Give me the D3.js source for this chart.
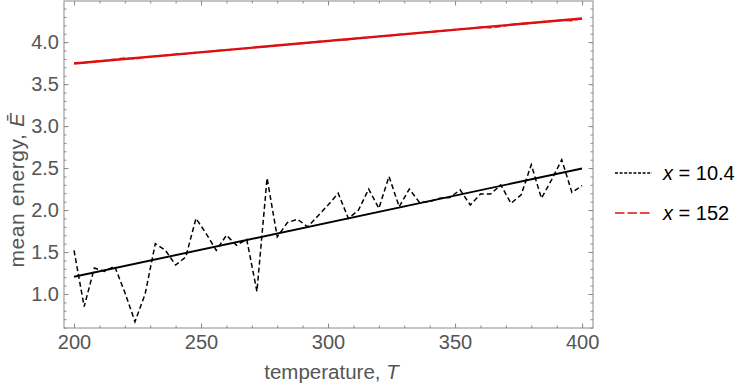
<!DOCTYPE html>
<html><head><meta charset="utf-8">
<script src="https://cdn.jsdelivr.net/npm/d3@7"></script>
<style>
body{margin:0;background:#fff;}
svg{display:block;}
text{font-family:"Liberation Sans",Arial,Helvetica,sans-serif;}
</style></head>
<body>
<svg id="chart" width="743" height="387"></svg>
<script>
// ---- data ----
const temps = [200,204,208,212,216,220,224,228,232,236,240,244,248,252,256,260,264,268,272,276,280,284,288,292,296,300,304,308,312,316,320,324,328,332,336,340,344,348,352,356,360,364,368,372,376,380,384,388,392,396,400];
const energyLow = [1.52,0.85,1.31,1.27,1.33,1.02,0.67,1.00,1.60,1.52,1.345,1.44,1.90,1.72,1.52,1.70,1.58,1.65,1.03,2.38,1.68,1.85,1.89,1.80,1.93,2.06,2.20,1.90,2.00,2.25,2.02,2.40,2.04,2.25,2.09,2.10,2.14,2.15,2.24,2.06,2.19,2.19,2.30,2.08,2.18,2.54,2.14,2.36,2.60,2.21,2.29];
const energyHigh = [3.748,3.755,3.770,3.781,3.795,3.812,3.800,3.822,3.834,3.840,3.855,3.862,3.877,3.883,3.898,3.905,3.919,3.926,3.941,3.948,3.962,3.969,3.984,3.990,4.006,4.012,4.032,4.028,4.052,4.055,4.070,4.076,4.091,4.098,4.112,4.119,4.134,4.141,4.155,4.162,4.177,4.172,4.188,4.206,4.220,4.226,4.241,4.248,4.262,4.255,4.285];
const fitT = [200,400];
const fitLow = [1.205,2.495];
const fitHigh = [3.746,4.282];
const xTicks = [200,250,300,350,400];
const yTicks = [1.0,1.5,2.0,2.5,3.0,3.5,4.0];
const seriesNames = ["10.4","152"];
const seriesColors = ["#000000","#dc1010"];

// ---- layout ----
const svg = d3.select("#chart");
const L=64, R=593, T=1, B=328;
const x = d3.scaleLinear().domain([196.06,404.3]).range([L,R]);
const y = d3.scaleLinear().domain([0.595,4.49]).range([B,T]);
const frameColor="#8a8a8a", textColor="#555555";

// frame
svg.append("rect").attr("x",L).attr("y",T).attr("width",R-L).attr("height",B-T)
  .attr("fill","none").attr("stroke",frameColor).attr("stroke-width",1);

const xMinor = d3.range(200,401,10);
const yMinor = d3.range(6,45,1).map(d=>d/10);

function styleAxis(g){
  g.select(".domain").remove();
  g.selectAll("line").attr("stroke",frameColor);
  g.selectAll("text").attr("fill",textColor).style("font-size","20px")
   .style("font-family","'Liberation Sans',Arial,sans-serif");
}
// bottom
svg.append("g").attr("transform",`translate(0,${B})`)
  .call(d3.axisBottom(x).tickValues(xMinor).tickSize(-2.5).tickFormat("")).call(styleAxis);
svg.append("g").attr("transform",`translate(0,${B})`)
  .call(d3.axisBottom(x).tickValues(xTicks).tickSize(-4.5).tickPadding(7).tickFormat(d3.format("d"))).call(styleAxis);
// top
svg.append("g").attr("transform",`translate(0,${T})`)
  .call(d3.axisTop(x).tickValues(xMinor).tickSize(-2.5).tickFormat("")).call(styleAxis);
svg.append("g").attr("transform",`translate(0,${T})`)
  .call(d3.axisTop(x).tickValues(xTicks).tickSize(-4.5).tickFormat("")).call(styleAxis);
// left
svg.append("g").attr("transform",`translate(${L},0)`)
  .call(d3.axisLeft(y).tickValues(yMinor).tickSize(-2.5).tickFormat("")).call(styleAxis);
svg.append("g").attr("transform",`translate(${L},0)`)
  .call(d3.axisLeft(y).tickValues(yTicks).tickSize(-4.5).tickPadding(5).tickFormat(d3.format(".1f"))).call(styleAxis);
// right
svg.append("g").attr("transform",`translate(${R},0)`)
  .call(d3.axisRight(y).tickValues(yMinor).tickSize(-2.5).tickFormat("")).call(styleAxis);
svg.append("g").attr("transform",`translate(${R},0)`)
  .call(d3.axisRight(y).tickValues(yTicks).tickSize(-4.5).tickFormat("")).call(styleAxis);

// lines
const line = d3.line().x(d=>x(d[0])).y(d=>y(d[1]));
const plot = svg.append("g");
plot.append("path").datum(d3.zip(fitT,fitHigh)).attr("d",line)
  .attr("fill","none").attr("stroke",seriesColors[1]).attr("stroke-width",2.4);
plot.append("path").datum(d3.zip(temps,energyHigh)).attr("d",line)
  .attr("fill","none").attr("stroke",seriesColors[1]).attr("stroke-width",1.6).attr("stroke-dasharray","6,3");
plot.append("path").datum(d3.zip(fitT,fitLow)).attr("d",line)
  .attr("fill","none").attr("stroke",seriesColors[0]).attr("stroke-width",1.9);
plot.append("path").datum(d3.zip(temps,energyLow)).attr("d",line)
  .attr("fill","none").attr("stroke",seriesColors[0]).attr("stroke-width",1.5).attr("stroke-dasharray","5,3");

// axis labels
svg.append("text").attr("x",(L+R)/2+3).attr("y",379).attr("text-anchor","middle")
  .attr("fill",textColor).style("font-size","20.5px")
  .html('temperature, <tspan font-style="italic">T</tspan>');
svg.append("text").attr("transform","translate(24,190) rotate(-90)").attr("text-anchor","middle")
  .attr("fill",textColor).style("font-size","21px").style("letter-spacing","0.6px")
  .html('mean energy, <tspan font-style="italic">Ē</tspan>');

// legend
const leg = svg.append("g");
const dashes = ["3,1.6","9.5,3"];
seriesNames.forEach((name,i)=>{
  const yy = 173 + i*40;
  leg.append("line").attr("x1",615).attr("x2",652).attr("y1",yy).attr("y2",yy)
    .attr("stroke",seriesColors[i]).attr("stroke-width",1.4).attr("stroke-dasharray",dashes[i]);
  leg.append("text").attr("x",663).attr("y",yy+7).attr("fill","#000").style("font-size","20px")
    .html(`<tspan font-style="italic">x</tspan> = ${name}`);
});
</script>
</body></html>
